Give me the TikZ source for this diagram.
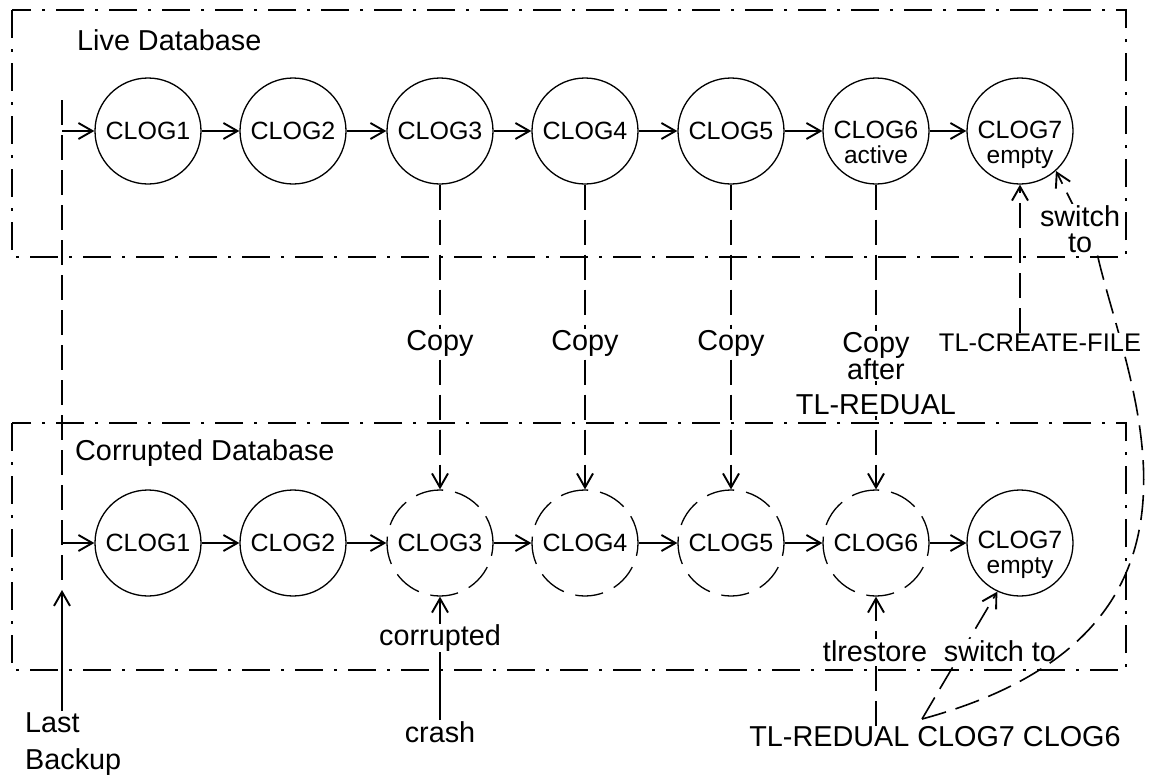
\documentclass[tikz,border=0pt]{standalone}
\usepackage{fontspec}
\setmainfont{Liberation Sans}
\usetikzlibrary{arrows.meta,calc}
\begin{document}
\begin{tikzpicture}[x=1pt,y=-1pt,
  arr/.style={-{Straight Barb[length=14pt,width=16pt,line width=1.9pt]}},
  conn/.style={line width=1.6pt},
  dconn/.style={conn, dash pattern=on 25pt off 10pt},
  frame/.style={line width=1.5pt, dash pattern=on 28pt off 11pt on 3pt off 11pt},
  clog/.style={circle, draw, line width=1.3pt, minimum size=106pt, inner sep=0pt, font=\fontsize{25}{25}\selectfont},
  dclog/.style={clog, dash pattern=on 28pt off 12pt},
  ctext/.style={font=\fontsize{25}{25}\selectfont, inner sep=0pt, anchor=base},
  sub/.style={font=\fontsize{24.5}{24}\selectfont, inner sep=0pt, anchor=base},
  lbl/.style={font=\fontsize{28.8}{25}\selectfont, inner sep=1pt},
  wlbl/.style={lbl, fill=white},
  head/.style={lbl, anchor=west},
]
\useasboundingbox (0,0) rectangle (1150,774);

% frames
\draw[frame] (12,10) rectangle (1126,257);
\draw[frame] (12,423) rectangle (1126,670);
\node[head] (hl) at (76,40) {Live Database};
\node[head] (hc) at (74,453) {Corrupted Database};

% top row
\node[clog] (t1) at (148,131) {CLOG1};
\node[clog] (t2) at (293,131) {CLOG2};
\node[clog] (t3) at (440,131) {CLOG3};
\node[clog] (t4) at (585,131) {CLOG4};
\node[clog] (t5) at (731,131) {CLOG5};
\node[clog] (t6) at (876,131) {};
\node[ctext] (t6a) at ($(t6)+(0,7)$) {CLOG6};
\node[sub] (t6b) at ($(t6)+(0,32)$) {active};
\node[clog] (t7) at (1020,131) {};
\node[ctext] (t7a) at ($(t7)+(0,7)$) {CLOG7};
\node[sub] (t7b) at ($(t7)+(0,32)$) {empty};

% bottom row
\node[clog] (b1) at (148,543) {CLOG1};
\node[clog] (b2) at (293,543) {CLOG2};
\node[dclog] (b3) at (440,543) {CLOG3};
\node[dclog] (b4) at (585,543) {CLOG4};
\node[dclog] (b5) at (731,543) {CLOG5};
\node[dclog] (b6) at (876,543) {CLOG6};
\node[clog] (b7) at (1020,543) {};
\node[ctext] (b7a) at ($(b7)+(0,5)$) {CLOG7};
\node[sub] (b7b) at ($(b7)+(0,30)$) {empty};

% chain arrows
\foreach \a/\b in {t1/t2,t2/t3,t3/t4,t4/t5,t5/t6,t6/t7,b1/b2,b2/b3,b3/b4,b4/b5,b5/b6,b6/b7}
  \draw[conn,arr] (\a) -- (\b);

% last backup line
\coordinate (vtop) at (62,100);
\coordinate (vbot) at (62,590);
\draw[dconn] (vtop) -- (vbot);
\draw[conn,arr] (vtop |- t1) -- (t1);
\draw[conn,arr] (vtop |- b1) -- (b1);
\node[lbl, align=left, anchor=north west, font=\fontsize{28.8}{37}\selectfont] (lb) at (24,711) {Last\\Backup};
\draw[conn,arr] (lb.north -| vbot) -- (vbot);

% copy connectors
\draw[dconn,arr] (t3) -- (b3);
\draw[dconn,arr] (t4) -- (b4);
\draw[dconn,arr] (t5) -- (b5);
\draw[dconn,arr] (t6) -- (b6);
\node[wlbl] (c3) at (440,343) {Copy};
\node[wlbl] (c4) at (585,343) {Copy};
\node[wlbl] (c5) at (731,343) {Copy};
\node[wlbl, align=center] (c6) at (876,356) {Copy\\after};
\node[wlbl] (c6b) at (876,405) {TL-REDUAL};

% crash
\node[lbl] (crash) at (440,732) {crash};
\draw[conn,arr] (crash) -- (b3);
\node[wlbl] (corr) at (440,638) {corrupted};

% TL-REDUAL command
\node[lbl] (tx) at (935,737) {TL-REDUAL CLOG7 CLOG6};
\draw[dconn,arr] (tx.north -| b6) -- (b6);
\node[wlbl] (tlr) at (875,651) {tlrestore};
\coordinate (apex) at (922,719);
\draw[dconn,arr] (apex) -- (b7.-115);
\node[wlbl] (sw1) at (1000,651) {switch to};
\draw[dconn,arr] (apex) .. controls (1250,630) and (1125,380) .. (1097,253) -- (t7.-48);
\node[wlbl, align=center, font=\fontsize{28.8}{26}\selectfont] (sw2) at (1080,229) {switch\\to};

% TL-CREATE-FILE
\node[wlbl, font=\fontsize{25.5}{25}\selectfont] (tcf) at (1040,343) {TL-CREATE-FILE};
\draw[dconn,arr] (tcf.north -| t7) -- (t7);
\end{tikzpicture}
\end{document}
